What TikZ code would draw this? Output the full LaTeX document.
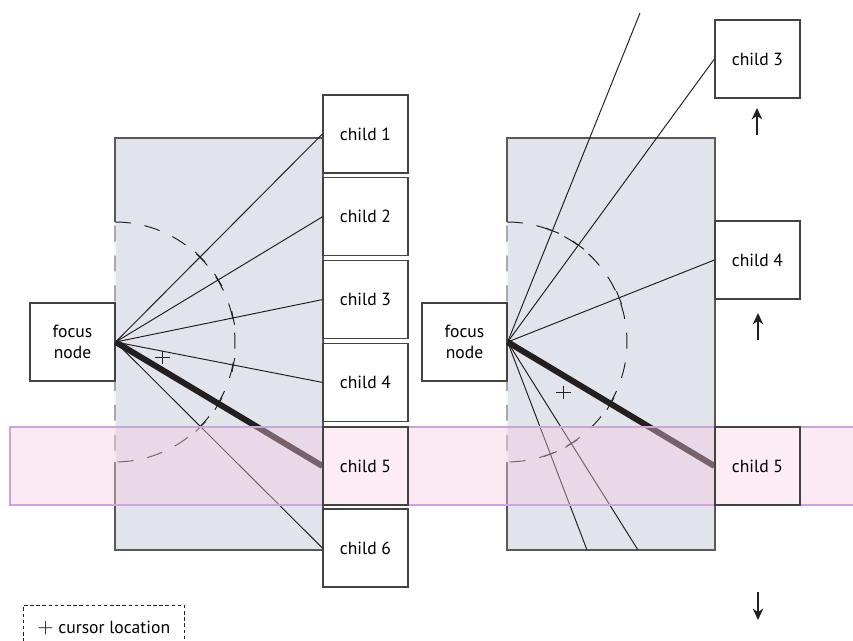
\documentclass[tikz,border=0pt]{standalone}
\usepackage{fontspec}
\setmainfont{PT Sans}
\usetikzlibrary{arrows.meta,decorations.markings}

\definecolor{ink}{RGB}{35,31,32}
\definecolor{panelgray}{RGB}{225,228,234}
\definecolor{bandpink}{RGB}{246,200,224}
\definecolor{bandedge}{RGB}{205,165,215}
\definecolor{pickfill}{RGB}{252,236,244}

\pgfdeclarelayer{front}
\pgfsetlayers{main,front}

\begin{document}
\begin{tikzpicture}[
    x=0.02cm, y=-0.02cm,
    font=\fontsize{10}{12}\selectfont,
    box/.style={draw=ink!85, fill=white, line width=0.7pt, minimum width=1.7cm,
                minimum height=1.56cm, inner sep=0pt, align=center},
    picked/.style={box, fill=pickfill},
    panel/.style={fill=panelgray, draw=ink!75, line width=0.7pt},
    spoke/.style={draw=ink, line width=0.55pt, postaction={decorate},
                  decoration={markings, mark=at position 2.4cm with
                  {\draw[ink, line width=0.55pt] (0pt,-0.14cm) -- (0pt,0.14cm);}}},
    focusline/.style={spoke, line width=3.4pt},
    reach/.style={draw=ink, line width=0.55pt, dash pattern=on 9pt off 8pt},
    cursor/.style={draw=ink, line width=0.5pt},
    scroll/.style={-{Stealth[length=6.5pt,width=6pt]}, line width=1.5pt, ink},
    band/.style={fill=bandpink, fill opacity=0.4, draw=bandedge, line width=0.6pt},
    legendbox/.style={draw=ink, dash pattern=on 2pt off 1.5pt, line width=0.5pt,
                      minimum width=3.22cm, minimum height=0.9cm, inner sep=0pt},
]
    \clip (0,0) rectangle (853,640);

    % fixed layout
    \draw[panel] (115,138) rectangle (323,550);
    \draw[panelgray!40!white, line width=0.8pt] (115,222) -- (115,462);
    \draw[reach] (115,222) arc[start angle=90, end angle=-90, radius=2.4cm] -- cycle;

    \node[box] (focusL) at (72.5,342) {focus\\node};
    \foreach \i/\y in {1/134, 2/216.8, 3/299.6, 4/382.4, 6/548}
        \node[box] (childL\i) at (365.5,\y) {child \i};
    \begin{pgfonlayer}{front}
        \node[picked] (childL5) at (365.5,466) {child 5};
    \end{pgfonlayer}

    \foreach \i in {1,2,3,4,6}
        \draw[spoke] (focusL.east) -- (childL\i.west);
    \draw[focusline] (focusL.east) -- (childL5.west);

    \coordinate (cursorL) at (162,357);
    \draw[cursor] (cursorL) +(-7.5,0) -- +(7.5,0) (cursorL) +(0,-6.5) -- +(0,6.5);

    % scrolled layout
    \draw[panel] (507,138) rectangle (715,550);
    \draw[panelgray!40!white, line width=0.8pt] (507,222) -- (507,462);
    \draw[reach] (507,222) arc[start angle=90, end angle=-90, radius=2.4cm] -- cycle;

    \node[box] (focusR) at (464.5,342) {focus\\node};
    \node[box] (childR3) at (757.5,59) {child 3};
    \node[box] (childR4) at (757.5,260) {child 4};
    \begin{pgfonlayer}{front}
        \node[picked] (childR5) at (757.5,466) {child 5};
    \end{pgfonlayer}
    \coordinate (childR2) at (640,13);
    \coordinate (childR6) at (587,550);
    \coordinate (childR7) at (638,550);

    \draw[spoke] (focusR.east) -- (childR2);
    \draw[spoke] (focusR.east) -- (childR3.west);
    \draw[spoke] (focusR.east) -- (childR4.west);
    \draw[spoke] (focusR.east) -- (childR6);
    \draw[spoke] (focusR.east) -- (childR7);
    \draw[focusline] (focusR.east) -- (childR5.west);

    \coordinate (cursorR) at (563,392);
    \draw[cursor] (cursorR) +(-7.5,0) -- +(7.5,0) (cursorR) +(0,-6.5) -- +(0,6.5);

    % selection band
    \draw[band] (10,427) rectangle (870,505);

    \coordinate (up3a) at (757,135);
    \coordinate (up3b) at (757,108);
    \coordinate (up4a) at (758,340);
    \coordinate (up4b) at (758,313);
    \coordinate (downa) at (758,592);
    \coordinate (downb) at (758,620);
    \draw[scroll] (up3a) -- (up3b);
    \draw[scroll] (up4a) -- (up4b);
    \draw[scroll] (downa) -- (downb);

    \node[legendbox, anchor=north west] (legend) at (23,605)
        {{\large$+$} cursor location};
\end{tikzpicture}
\end{document}
